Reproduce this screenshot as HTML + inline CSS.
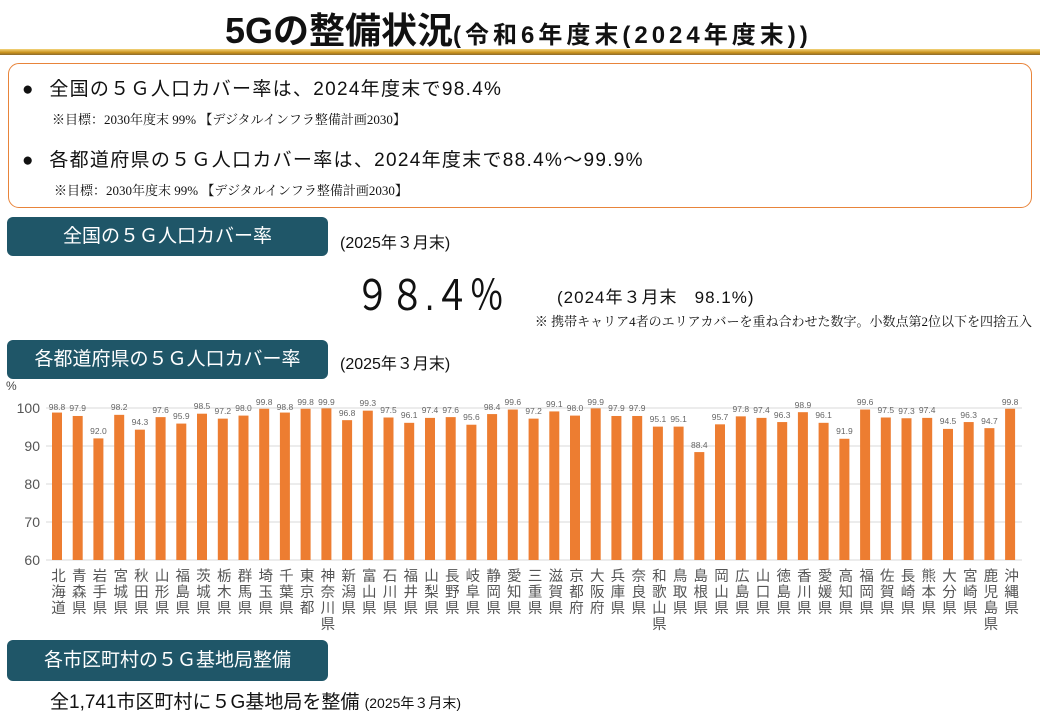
<!DOCTYPE html>
<html><head><meta charset="utf-8"><style>
body{margin:0;width:1040px;height:720px;background:#fff;position:relative;overflow:hidden;font-family:"Liberation Sans","Noto Sans CJK JP",sans-serif;color:#111}
.a{position:absolute;white-space:nowrap}
.tb{position:absolute;left:7px;width:321px;background:#1f5668;border-radius:6px;color:#fff;text-align:center}
.ser{font-family:"Liberation Serif","Noto Serif CJK SC",serif}
</style></head><body>
<div class="a" style="left:225px;top:2px;font-size:36px;font-weight:bold;letter-spacing:0px">5Gの整備状況<span style="font-size:24px;letter-spacing:4px">(令和6年度末(2024年度末))</span></div>
<div class="a" style="left:0;top:49px;width:1040px;height:6px;background:linear-gradient(#f3d37a,#c8901a 60%,#8a6a30)"></div>
<div class="a" style="left:8px;top:63px;width:1022px;height:143px;border:1.5px solid #e8843a;border-radius:11px"></div>
<div class="a" style="left:22px;top:74px;font-size:19px">●&nbsp;&nbsp; <span style="letter-spacing:1.3px">全国の５Ｇ人口カバー率は、2024年度末で98.4%</span></div>
<div class="a ser" style="left:52px;top:109px;font-size:13px">※目標：2030年度末 99% 【デジタルインフラ整備計画2030】</div>
<div class="a" style="left:22px;top:145px;font-size:19px">●&nbsp;&nbsp; <span style="letter-spacing:1.3px">各都道府県の５Ｇ人口カバー率は、2024年度末で88.4%～99.9%</span></div>
<div class="a ser" style="left:54px;top:180px;font-size:13px">※目標：2030年度末 99% 【デジタルインフラ整備計画2030】</div>
<div class="tb" style="top:217px;height:39px;line-height:39px;font-size:19px">全国の５Ｇ人口カバー率</div>
<div class="a" style="left:340px;top:229px;font-size:16px">(2025年３月末)</div>
<div class="a" style="left:355px;top:262px;font-size:42px;transform:scaleX(0.83);transform-origin:0 0">９８.４％</div>
<div class="a" style="left:557px;top:283px;font-size:17px;letter-spacing:1px">(2024年３月末&nbsp;&nbsp; 98.1%)</div>
<div class="a ser" style="right:8px;top:311px;font-size:13px">※ 携帯キャリア4者のエリアカバーを重ね合わせた数字。小数点第2位以下を四捨五入</div>
<div class="tb" style="top:340px;height:39px;line-height:39px;font-size:19px">各都道府県の５Ｇ人口カバー率</div>
<div class="a" style="left:340px;top:350px;font-size:16px">(2025年３月末)</div>
<div class="a" style="left:6px;top:379px;font-size:12px;color:#444">%</div>
<svg class="a" style="left:0;top:0" width="1040" height="720">
<g stroke="#d9d9d9" stroke-width="1"><line x1="46" x2="1022" y1="408" y2="408"/><line x1="46" x2="1022" y1="446" y2="446"/><line x1="46" x2="1022" y1="484" y2="484"/><line x1="46" x2="1022" y1="522" y2="522"/><line x1="46" x2="1022" y1="560" y2="560"/></g>
<g font-size="14" fill="#555" text-anchor="end"><text x="40" y="413">100</text><text x="40" y="451">90</text><text x="40" y="489">80</text><text x="40" y="527">70</text><text x="40" y="565">60</text></g>
<g transform="translate(0,560) scale(1,-3.8)" fill="#ed7d31">
<rect x="52" width="10" height="38.8"/><rect x="72.7" width="10" height="37.9"/><rect x="93.4" width="10" height="32"/><rect x="114.2" width="10" height="38.2"/><rect x="134.9" width="10" height="34.3"/><rect x="155.6" width="10" height="37.6"/><rect x="176.3" width="10" height="35.9"/><rect x="197" width="10" height="38.5"/><rect x="217.8" width="10" height="37.2"/><rect x="238.5" width="10" height="38"/><rect x="259.2" width="10" height="39.8"/><rect x="279.9" width="10" height="38.8"/><rect x="300.6" width="10" height="39.8"/><rect x="321.4" width="10" height="39.9"/><rect x="342.1" width="10" height="36.8"/><rect x="362.8" width="10" height="39.3"/><rect x="383.5" width="10" height="37.5"/><rect x="404.2" width="10" height="36.1"/><rect x="425" width="10" height="37.4"/><rect x="445.7" width="10" height="37.6"/><rect x="466.4" width="10" height="35.6"/><rect x="487.1" width="10" height="38.4"/><rect x="507.8" width="10" height="39.6"/><rect x="528.6" width="10" height="37.2"/><rect x="549.3" width="10" height="39.1"/><rect x="570" width="10" height="38"/><rect x="590.7" width="10" height="39.9"/><rect x="611.4" width="10" height="37.9"/><rect x="632.2" width="10" height="37.9"/><rect x="652.9" width="10" height="35.1"/><rect x="673.6" width="10" height="35.1"/><rect x="694.3" width="10" height="28.4"/><rect x="715" width="10" height="35.7"/><rect x="735.8" width="10" height="37.8"/><rect x="756.5" width="10" height="37.4"/><rect x="777.2" width="10" height="36.3"/><rect x="797.9" width="10" height="38.9"/><rect x="818.6" width="10" height="36.1"/><rect x="839.4" width="10" height="31.9"/><rect x="860.1" width="10" height="39.6"/><rect x="880.8" width="10" height="37.5"/><rect x="901.5" width="10" height="37.3"/><rect x="922.2" width="10" height="37.4"/><rect x="943" width="10" height="34.5"/><rect x="963.7" width="10" height="36.3"/><rect x="984.4" width="10" height="34.7"/><rect x="1005.1" width="10" height="39.8"/>
</g>
<g font-size="8.5" fill="#666" text-anchor="middle">
<text x="57" y="410">98.8</text><text x="77.7" y="411">97.9</text><text x="98.4" y="434">92.0</text><text x="119.2" y="410">98.2</text><text x="139.9" y="425">94.3</text><text x="160.6" y="413">97.6</text><text x="181.3" y="419">95.9</text><text x="202" y="409">98.5</text><text x="222.8" y="414">97.2</text><text x="243.5" y="411">98.0</text><text x="264.2" y="405">99.8</text><text x="284.9" y="410">98.8</text><text x="305.6" y="405">99.8</text><text x="326.4" y="405">99.9</text><text x="347.1" y="416">96.8</text><text x="367.8" y="406">99.3</text><text x="388.5" y="413">97.5</text><text x="409.2" y="418">96.1</text><text x="430" y="413">97.4</text><text x="450.7" y="413">97.6</text><text x="471.4" y="420">95.6</text><text x="492.1" y="410">98.4</text><text x="512.8" y="405">99.6</text><text x="533.6" y="414">97.2</text><text x="554.3" y="407">99.1</text><text x="575" y="411">98.0</text><text x="595.7" y="405">99.9</text><text x="616.4" y="411">97.9</text><text x="637.2" y="411">97.9</text><text x="657.9" y="422">95.1</text><text x="678.6" y="422">95.1</text><text x="699.3" y="448">88.4</text><text x="720" y="420">95.7</text><text x="740.8" y="412">97.8</text><text x="761.5" y="413">97.4</text><text x="782.2" y="418">96.3</text><text x="802.9" y="408">98.9</text><text x="823.6" y="418">96.1</text><text x="844.4" y="434">91.9</text><text x="865.1" y="405">99.6</text><text x="885.8" y="413">97.5</text><text x="906.5" y="414">97.3</text><text x="927.2" y="413">97.4</text><text x="948" y="424">94.5</text><text x="968.7" y="418">96.3</text><text x="989.4" y="424">94.7</text><text x="1010.1" y="405">99.8</text>
</g>
<g font-size="14.5" fill="#555" style="writing-mode:vertical-rl" letter-spacing="1.5">
<text x="57" y="568">北海道</text><text x="77.7" y="568">青森県</text><text x="98.4" y="568">岩手県</text><text x="119.2" y="568">宮城県</text><text x="139.9" y="568">秋田県</text><text x="160.6" y="568">山形県</text><text x="181.3" y="568">福島県</text><text x="202" y="568">茨城県</text><text x="222.8" y="568">栃木県</text><text x="243.5" y="568">群馬県</text><text x="264.2" y="568">埼玉県</text><text x="284.9" y="568">千葉県</text><text x="305.6" y="568">東京都</text><text x="326.4" y="568">神奈川県</text><text x="347.1" y="568">新潟県</text><text x="367.8" y="568">富山県</text><text x="388.5" y="568">石川県</text><text x="409.2" y="568">福井県</text><text x="430" y="568">山梨県</text><text x="450.7" y="568">長野県</text><text x="471.4" y="568">岐阜県</text><text x="492.1" y="568">静岡県</text><text x="512.8" y="568">愛知県</text><text x="533.6" y="568">三重県</text><text x="554.3" y="568">滋賀県</text><text x="575" y="568">京都府</text><text x="595.7" y="568">大阪府</text><text x="616.4" y="568">兵庫県</text><text x="637.2" y="568">奈良県</text><text x="657.9" y="568">和歌山県</text><text x="678.6" y="568">鳥取県</text><text x="699.3" y="568">島根県</text><text x="720" y="568">岡山県</text><text x="740.8" y="568">広島県</text><text x="761.5" y="568">山口県</text><text x="782.2" y="568">徳島県</text><text x="802.9" y="568">香川県</text><text x="823.6" y="568">愛媛県</text><text x="844.4" y="568">高知県</text><text x="865.1" y="568">福岡県</text><text x="885.8" y="568">佐賀県</text><text x="906.5" y="568">長崎県</text><text x="927.2" y="568">熊本県</text><text x="948" y="568">大分県</text><text x="968.7" y="568">宮崎県</text><text x="989.4" y="568">鹿児島県</text><text x="1010.1" y="568">沖縄県</text>
</g>
</svg>
<div class="tb" style="top:640px;height:41px;line-height:41px;font-size:19px">各市区町村の５Ｇ基地局整備</div>
<div class="a" style="left:50px;top:687px;font-size:19px">全1,741市区町村に５G基地局を整備 <span style="font-size:14px">(2025年３月末)</span></div>
</body></html>
